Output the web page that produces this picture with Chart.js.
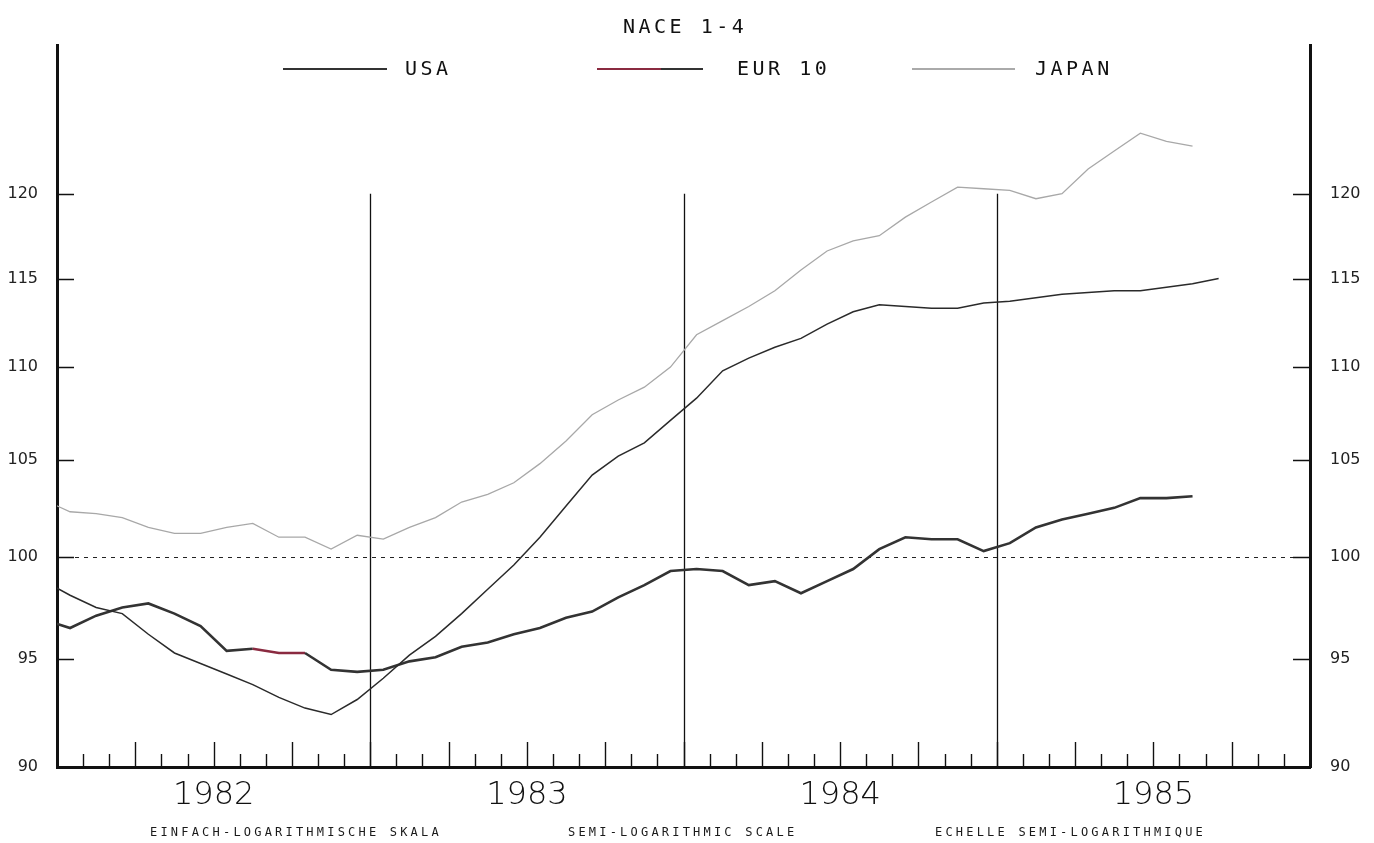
<!DOCTYPE html>
<html>
<head>
<meta charset="utf-8">
<script src="https://cdn.jsdelivr.net/npm/chart.js@4.4.0/dist/chart.umd.min.js"></script>
<style>
  html, body { margin: 0; padding: 0; background: #fff; }
  #wrap { position: relative; width: 1374px; height: 843px; overflow: hidden; }
  #wrap canvas { position: absolute; left: 0; top: 0; }
  .lbl { position: absolute; font-family: "DejaVu Sans Mono", monospace; color: #111; line-height: 1; white-space: nowrap; }
  .big { font-size: 20px; letter-spacing: 3.5px; }
  .small { font-size: 12px; letter-spacing: 3.2px; color: #1a1a1a; }
  .swatch { position: absolute; }
</style>
</head>
<body>
<div id="wrap">
  <canvas id="chart" width="1374" height="843"></canvas>
  <div class="lbl big" style="left:623px; top:16px;">NACE 1-4</div>

  <div class="swatch" style="left:283px; top:68px; width:104px; height:1.5px; background:#333;"></div>
  <div class="lbl big" style="left:405px; top:58px;">USA</div>
  <div class="swatch" style="left:597px; top:67.5px; width:106px; height:2.5px; background:linear-gradient(to right, #8a2a40 0, #8a2a40 60%, #333 60%, #333 100%);"></div>
  <div class="lbl big" style="left:737px; top:58px;">EUR 10</div>
  <div class="swatch" style="left:912px; top:68px; width:103px; height:1.5px; background:#aaa;"></div>
  <div class="lbl big" style="left:1035px; top:58px;">JAPAN</div>

  <div class="lbl small" style="left:150px; top:826px;">EINFACH-LOGARITHMISCHE SKALA</div>
  <div class="lbl small" style="left:568px; top:826px;">SEMI-LOGARITHMIC SCALE</div>
  <div class="lbl small" style="left:935px; top:826px;">ECHELLE SEMI-LOGARITHMIQUE</div>
</div>

<script>
// Monthly data, Dec 1981 .. Sep 1985 (Dec 1981 only feeds the line into the left axis)
const months = [
  '1981-12',
  '1982-01','1982-02','1982-03','1982-04','1982-05','1982-06','1982-07','1982-08','1982-09','1982-10','1982-11','1982-12',
  '1983-01','1983-02','1983-03','1983-04','1983-05','1983-06','1983-07','1983-08','1983-09','1983-10','1983-11','1983-12',
  '1984-01','1984-02','1984-03','1984-04','1984-05','1984-06','1984-07','1984-08','1984-09','1984-10','1984-11','1984-12',
  '1985-01','1985-02','1985-03','1985-04','1985-05','1985-06','1985-07','1985-08','1985-09'
];

const usa = [
  98.8,
  98.1, 97.5, 97.2, 96.2, 95.3, 94.8, 94.3, 93.8, 93.2, 92.7, 92.4, 93.1,
  94.1, 95.2, 96.1, 97.2, 98.4, 99.6, 101.0, 102.6, 104.2, 105.2, 105.9, 107.1,
  108.3, 109.8, 110.5, 111.1, 111.6, 112.4, 113.1, 113.5, 113.4, 113.3, 113.3, 113.6,
  113.7, 113.9, 114.1, 114.2, 114.3, 114.3, 114.5, 114.7, 115.0
];

const eur10 = [
  96.9,
  96.5, 97.1, 97.5, 97.7, 97.2, 96.6, 95.4, 95.5, 95.3, 95.3, 94.5, 94.4,
  94.5, 94.9, 95.1, 95.6, 95.8, 96.2, 96.5, 97.0, 97.3, 98.0, 98.6, 99.3,
  99.4, 99.3, 98.6, 98.8, 98.2, 98.8, 99.4, 100.4, 101.0, 100.9, 100.9, 100.3,
  100.7, 101.5, 101.9, 102.2, 102.5, 103.0, 103.0, 103.1, null
];

const japan = [
  102.9,
  102.3, 102.2, 102.0, 101.5, 101.2, 101.2, 101.5, 101.7, 101.0, 101.0, 100.4, 101.1,
  100.9, 101.5, 102.0, 102.8, 103.2, 103.8, 104.8, 106.0, 107.4, 108.2, 108.9, 110.0,
  111.8, 112.6, 113.4, 114.3, 115.5, 116.6, 117.2, 117.5, 118.6, 119.5, 120.4, 120.3,
  120.2, 119.7, 120.0, 121.5, 122.6, 123.7, 123.2, 122.9, null
];

const years = ['1982', '1983', '1984', '1985'];
const yTicks = [90, 95, 100, 105, 110, 115, 120];
const yMin = 90, yMax = 129.3;

// months since Jan 1982, placed mid-month
function toPoints(values) {
  return values.map((v, i) => {
    const [yy, mm] = months[i].split('-').map(Number);
    return { x: (yy - 1982) * 12 + (mm - 1) + 0.5, y: v };
  });
}

// frame extras: monthly tick marks, inner y ticks, year dividers, 100 reference line
const frameMarks = {
  id: 'frameMarks',
  beforeDatasetsDraw(chart) {
    const { ctx, chartArea, scales } = chart;
    const x = scales.x, y = scales.y;
    ctx.save();
    // dashed 100 line
    ctx.strokeStyle = '#222';
    ctx.lineWidth = 1;
    ctx.setLineDash([4, 5]);
    ctx.beginPath();
    ctx.moveTo(chartArea.left, Math.round(y.getPixelForValue(100)) + 0.5);
    ctx.lineTo(chartArea.right, Math.round(y.getPixelForValue(100)) + 0.5);
    ctx.stroke();
    ctx.setLineDash([]);
    // year dividers up to 120
    ctx.lineWidth = 1.3;
    ctx.strokeStyle = '#111';
    for (let i = 1; i < years.length; i++) {
      const px = Math.round(x.getPixelForValue(i * 12)) + 0.5;
      ctx.beginPath();
      ctx.moveTo(px, y.getPixelForValue(120));
      ctx.lineTo(px, chartArea.bottom);
      ctx.stroke();
    }
    ctx.restore();
  },
  afterDatasetsDraw(chart) {
    const { ctx, chartArea, scales } = chart;
    const x = scales.x, y = scales.y;
    ctx.save();
    ctx.strokeStyle = '#111';
    ctx.lineWidth = 1.4;
    // month ticks pointing up, longer every quarter
    for (let k = 1; k < years.length * 12; k++) {
      const px = Math.round(x.getPixelForValue(k)) + 0.5;
      const len = k % 3 === 0 ? 25 : 13;
      ctx.beginPath();
      ctx.moveTo(px, chartArea.bottom);
      ctx.lineTo(px, chartArea.bottom - len);
      ctx.stroke();
    }
    // inner y ticks on both sides
    yTicks.forEach(v => {
      if (v === yMin) return;
      const py = Math.round(y.getPixelForValue(v)) + 0.5;
      ctx.beginPath();
      ctx.moveTo(chartArea.left, py);
      ctx.lineTo(chartArea.left + 17, py);
      ctx.moveTo(chartArea.right, py);
      ctx.lineTo(chartArea.right - 17, py);
      ctx.stroke();
    });
    ctx.restore();
  }
};

const yAxis = (position, width, pad) => ({
  type: 'logarithmic',
  position,
  min: yMin,
  max: yMax,
  afterFit: s => { s.width = width; },
  afterBuildTicks: s => { s.ticks = yTicks.map(v => ({ value: v })); },
  ticks: {
    padding: pad,
    color: '#222',
    font: { family: 'DejaVu Sans', size: 16 },
    callback: v => String(v)
  },
  grid: { display: false, drawTicks: false },
  border: { display: true, width: 3, color: '#111' }
});

new Chart(document.getElementById('chart'), {
  type: 'line',
  data: {
    datasets: [
      {
        label: 'JAPAN',
        data: toPoints(japan),
        borderColor: '#a8a8a8',
        borderWidth: 1.3,
        pointRadius: 0,
        tension: 0,
        spanGaps: false
      },
      {
        label: 'USA',
        data: toPoints(usa),
        borderColor: '#2a2a2a',
        borderWidth: 1.5,
        pointRadius: 0,
        tension: 0
      },
      {
        label: 'EUR 10',
        data: toPoints(eur10),
        borderColor: '#333',
        borderWidth: 2.6,
        pointRadius: 0,
        tension: 0,
        segment: {
          borderColor: c => (c.p0DataIndex === 8 || c.p0DataIndex === 9) ? '#8a2a40' : undefined
        }
      }
    ]
  },
  options: {
    responsive: false,
    animation: false,
    events: [],
    layout: { padding: { top: 45, left: 0, right: 0, bottom: 0 } },
    plugins: {
      legend: { display: false },
      tooltip: { enabled: false }
    },
    scales: {
      x: {
        type: 'linear',
        position: 'bottom',
        min: 0,
        max: years.length * 12,
        afterFit: s => { s.height = 76; },
        afterBuildTicks: s => { s.ticks = years.map((_, i) => ({ value: i * 12 + 6 })); },
        ticks: {
          padding: 9,
          color: '#111',
          font: { family: 'DejaVu Sans', size: 32, weight: 300 },
          maxRotation: 0,
          autoSkip: false,
          callback: v => years[Math.floor(v / 12)]
        },
        grid: { display: false, drawTicks: false },
        border: { display: true, width: 3, color: '#111' }
      },
      y: yAxis('left', 57, 19),
      y2: yAxis('right', 64, 20)
    }
  },
  plugins: [frameMarks]
});
</script>
</body>
</html>
